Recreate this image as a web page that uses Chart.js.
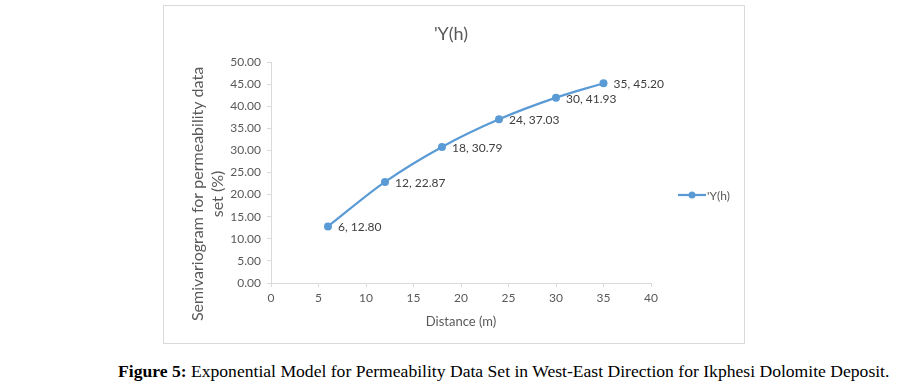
<!DOCTYPE html>
<html>
<head>
<meta charset="utf-8">
<script src="https://cdn.jsdelivr.net/npm/chart.js@4.4.1/dist/chart.umd.min.js"></script>
<style>
  body { margin: 0; background: #fff; }
  #page { position: relative; width: 898px; height: 390px; background: #fff; }
  #box { position: absolute; left: 163px; top: 5px; width: 582px; height: 339px; border: 1px solid #d9d9d9; box-sizing: border-box; }
  #caption { position: absolute; left: 118px; top: 361px; text-align: left;
    font-family: "Liberation Serif", "Times New Roman", serif; font-size: 17.6px; color: #000; white-space: nowrap; }
</style>
</head>
<body>
<div id="page">
  <div id="box"><canvas id="chart" width="580" height="337"></canvas></div>
  <div id="caption"><b>Figure 5:</b> Exponential Model for Permeability Data Set in West-East Direction for Ikphesi Dolomite Deposit.</div>
</div>
<script>
// datos
const distancia = [6, 12, 18, 24, 30, 35];
const semivariograma = [12.80, 22.87, 30.79, 37.03, 41.93, 45.20];
const serieNombre = "'Y(h)";
const tituloY = ['Semivariogram for permeability data', 'set (%)'];

const azul = '#5b9bd5';
const gris = '#595959';
const fuente = 'Lato, "Open Sans", sans-serif';

// título, título del eje Y, etiquetas de datos y leyenda
const extras = {
  id: 'extras',
  afterDatasetsDraw(chart) {
    const c = chart.ctx;
    const meta = chart.getDatasetMeta(0);
    c.save();
    // título
    c.font = '18px ' + fuente;
    c.fillStyle = gris;
    c.textAlign = 'center';
    c.textBaseline = 'middle';
    c.fillText(serieNombre, 287, 28);
    // título eje Y
    c.save();
    c.translate(34, 188);
    c.rotate(-Math.PI / 2);
    c.font = '16px ' + fuente;
    tituloY.forEach((t, i) => c.fillText(t, 0, i * 20));
    c.restore();
    // etiquetas
    c.textAlign = 'left';
    c.font = '12px ' + fuente;
    c.fillStyle = '#404040';
    meta.data.forEach((pt, i) => {
      c.fillText(distancia[i] + ', ' + semivariograma[i].toFixed(2), pt.x + 10, pt.y + 1);
    });
    // leyenda
    const lx = chart.chartArea.right + 27, ly = 189;
    c.strokeStyle = azul;
    c.lineWidth = 2.25;
    c.beginPath(); c.moveTo(lx, ly); c.lineTo(lx + 28, ly); c.stroke();
    c.fillStyle = azul;
    c.beginPath(); c.arc(lx + 14, ly, 3.5, 0, Math.PI * 2); c.fill();
    c.fillStyle = gris;
    c.fillText(serieNombre, lx + 29, ly + 1);
    c.restore();
  }
};

const ctx = document.getElementById('chart').getContext('2d');
new Chart(ctx, {
  type: 'line',
  data: {
    datasets: [{
      label: serieNombre,
      data: distancia.map((x, i) => ({ x: x, y: semivariograma[i] })),
      borderColor: azul,
      backgroundColor: azul,
      borderWidth: 2.25,
      pointRadius: 4,
      pointBorderWidth: 0,
      cubicInterpolationMode: 'monotone',
      fill: false
    }]
  },
  options: {
    responsive: false,
    animation: false,
    layout: { padding: { left: 0, right: 93, top: 56, bottom: 0 } },
    plugins: {
      legend: { display: false },
      tooltip: { enabled: false },
      title: { display: false }
    },
    scales: {
      x: {
        type: 'linear',
        min: 0, max: 40,
        ticks: { stepSize: 5, color: gris, font: { family: fuente, size: 12 }, padding: 4 },
        grid: { drawOnChartArea: false, color: '#d9d9d9', tickLength: 4 },
        border: { color: '#d9d9d9' },
        title: { display: true, text: 'Distance (m)', color: gris, font: { family: fuente, size: 13 }, padding: { top: 2, bottom: 13 } },
        afterFit(scale) { scale.height = 60; }
      },
      y: {
        min: 0, max: 50,
        ticks: { stepSize: 5, color: gris, font: { family: fuente, size: 12 }, padding: 6,
          callback: v => v.toFixed(2) },
        grid: { drawOnChartArea: false, color: '#d9d9d9', tickLength: 4 },
        border: { color: '#d9d9d9' },
        title: { display: false },
        afterFit(scale) { scale.width = 107; }
      }
    }
  },
  plugins: [extras]
});
</script>
</body>
</html>
